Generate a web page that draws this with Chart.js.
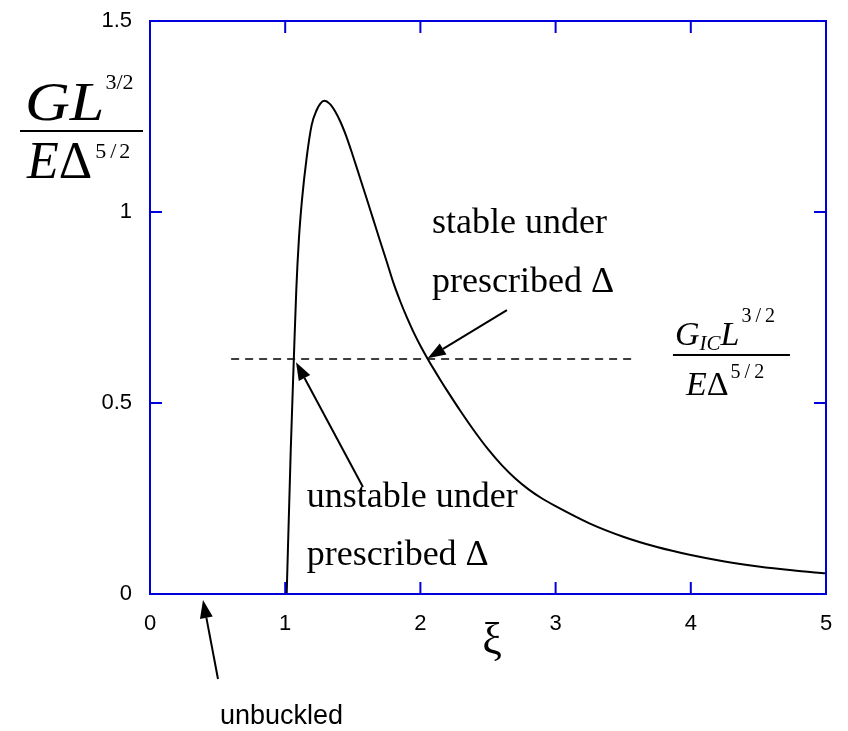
<!DOCTYPE html>
<html>
<head>
<meta charset="utf-8">
<script src="https://cdn.jsdelivr.net/npm/chart.js@4/dist/chart.umd.min.js"></script>
<style>
  html, body { margin: 0; padding: 0; background: #fff; }
  canvas { display: block; }
</style>
</head>
<body>
<canvas id="chart" width="848" height="731"></canvas>
<script>
// energy release rate vs. buckle parameter xi
const xi = [1.011, 1.041, 1.063, 1.082, 1.101, 1.124, 1.159, 1.196, 1.233, 1.26, 1.29,
  1.33, 1.37, 1.41, 1.45, 1.5, 1.55, 1.6, 1.65, 1.7, 1.75, 1.8, 1.85, 1.9, 1.95, 2.0,
  2.05, 2.1, 2.15, 2.2, 2.3, 2.4, 2.5, 2.6, 2.7, 2.8, 2.9, 3.0, 3.25, 3.5, 3.75, 4.0,
  4.25, 4.5, 4.75, 5.0];
const energy = [0, 0.377, 0.607, 0.796, 0.927, 1.031, 1.143, 1.228, 1.267, 1.284, 1.291,
  1.283, 1.263, 1.235, 1.2, 1.148, 1.093, 1.038, 0.982, 0.926, 0.871, 0.815, 0.767, 0.724, 0.685, 0.65,
  0.618, 0.588, 0.559, 0.531, 0.477, 0.426, 0.379, 0.338, 0.303, 0.274, 0.250, 0.230, 0.185, 0.150, 0.123, 0.102,
  0.085, 0.072, 0.062, 0.054];

// toughness level G_IC (dashed)
const gicXi = [0.6, 3.59];
const gicEnergy = [0.615, 0.615];

const xTicks = [0, 1, 2, 3, 4, 5];
const yTicks = [0, 0.5, 1, 1.5];

const BLUE = '#0000dc';
const SERIF = '"Liberation Serif", "Times New Roman", serif';
const SANS = '"Liberation Sans", Arial, sans-serif';

// [tailX, tailY, headX, headY] in data units
const arrows = [
  [2.640, 0.743, 2.054, 0.617],
  [1.575, 0.280, 1.080, 0.607],
  [0.503, -0.2225, 0.392, -0.0157]
];

const notes = [
  { text: 'stable under', x: 2.086, y: 0.945, font: '36px ' + SERIF },
  { text: 'prescribed \u0394', x: 2.086, y: 0.791, font: '36px ' + SERIF },
  { text: 'unstable under', x: 1.159, y: 0.228, font: '36px ' + SERIF },
  { text: 'prescribed \u0394', x: 1.159, y: 0.076, font: '36px ' + SERIF },
  { text: 'unbuckled', x: 0.518, y: -0.340, font: '27px ' + SANS }
];

// draws pieces left to right; sx stretches a piece horizontally
function textRun(ctx, x, y, pieces) {
  for (const p of pieces) {
    ctx.font = (p.italic ? 'italic ' : '') + p.size + 'px ' + SERIF;
    x += p.gap || 0;
    const sx = p.sx || 1;
    ctx.save();
    ctx.translate(x, y + (p.dy || 0));
    ctx.scale(sx, 1);
    ctx.fillText(p.t, 0, 0);
    ctx.restore();
    x += ctx.measureText(p.t).width * sx;
  }
}

function drawArrow(ctx, x1, y1, x2, y2) {
  const ang = Math.atan2(y2 - y1, x2 - x1);
  const len = 18, half = 6.5;
  const bx = x2 - len * Math.cos(ang), by = y2 - len * Math.sin(ang);
  ctx.beginPath();
  ctx.moveTo(x1, y1);
  ctx.lineTo(bx, by);
  ctx.stroke();
  ctx.beginPath();
  ctx.moveTo(x2, y2);
  ctx.lineTo(bx + half * Math.sin(ang), by - half * Math.cos(ang));
  ctx.lineTo(bx - half * Math.sin(ang), by + half * Math.cos(ang));
  ctx.closePath();
  ctx.fill();
}

const decorations = {
  id: 'decorations',
  afterDraw(chart) {
    const { ctx, chartArea: a, scales: { x, y } } = chart;
    ctx.save();

    // blue box with inward ticks
    ctx.strokeStyle = BLUE;
    ctx.lineWidth = 2;
    ctx.strokeRect(a.left, a.top, a.right - a.left, a.bottom - a.top);
    ctx.beginPath();
    xTicks.slice(1, -1).forEach(v => {
      const px = x.getPixelForValue(v);
      ctx.moveTo(px, a.bottom); ctx.lineTo(px, a.bottom - 12);
      ctx.moveTo(px, a.top); ctx.lineTo(px, a.top + 12);
    });
    yTicks.slice(1, -1).forEach(v => {
      const py = y.getPixelForValue(v);
      ctx.moveTo(a.left, py); ctx.lineTo(a.left + 12, py);
      ctx.moveTo(a.right, py); ctx.lineTo(a.right - 12, py);
    });
    ctx.stroke();

    // arrows
    ctx.strokeStyle = '#000';
    ctx.fillStyle = '#000';
    ctx.lineWidth = 2;
    arrows.forEach(([tx, ty, hx, hy]) => {
      drawArrow(ctx, x.getPixelForValue(tx), y.getPixelForValue(ty),
        x.getPixelForValue(hx), y.getPixelForValue(hy));
    });

    // annotations
    ctx.textAlign = 'left';
    ctx.textBaseline = 'alphabetic';
    notes.forEach(n => {
      ctx.font = n.font;
      ctx.fillText(n.text, x.getPixelForValue(n.x), y.getPixelForValue(n.y));
    });

    // x axis title
    ctx.font = '44px ' + SERIF;
    ctx.textAlign = 'center';
    ctx.fillText('\u03be', x.getPixelForValue(2.53), y.getPixelForValue(-0.155));
    ctx.textAlign = 'left';

    // y axis title  G L^{3/2} / E Delta^{5/2}
    const lx = a.left - 130, ly = a.top + 110;
    textRun(ctx, lx + 5, ly - 11, [
      { t: 'GL', size: 54, italic: true, sx: 1.15 },
      { t: '3/2', size: 22, dy: -31, gap: 1 }
    ]);
    ctx.fillRect(lx, ly - 1, 123, 2);
    textRun(ctx, lx + 7, ly + 47, [
      { t: 'E', size: 52, italic: true },
      { t: '\u0394', size: 52 },
      { t: '5', size: 22, dy: -20, gap: 3 },
      { t: '/', size: 22, dy: -20, gap: 4 },
      { t: '2', size: 22, dy: -20, gap: 3 }
    ]);

    // G_IC label next to the dashed line
    const gx = x.getPixelForValue(3.868), gy = y.getPixelForValue(0.6257);
    textRun(ctx, gx + 2, gy - 10, [
      { t: 'G', size: 34, italic: true },
      { t: 'IC', size: 21, italic: true, dy: 5 },
      { t: 'L', size: 34, italic: true },
      { t: '3', size: 20, dy: -23, gap: 2 },
      { t: '/', size: 20, dy: -23, gap: 4 },
      { t: '2', size: 20, dy: -23, gap: 4 }
    ]);
    ctx.fillRect(gx, gy - 1, 117, 2);
    textRun(ctx, gx + 13, gy + 40, [
      { t: 'E', size: 34, italic: true },
      { t: '\u0394', size: 34 },
      { t: '5', size: 20, dy: -17, gap: 2 },
      { t: '/', size: 20, dy: -17, gap: 4 },
      { t: '2', size: 20, dy: -17, gap: 4 }
    ]);

    ctx.restore();
  }
};

new Chart(document.getElementById('chart'), {
  type: 'line',
  data: {
    datasets: [
      {
        data: xi.map((v, i) => ({ x: v, y: energy[i] })),
        borderColor: '#000',
        borderWidth: 2,
        pointRadius: 0,
        cubicInterpolationMode: 'monotone',
        fill: false
      },
      {
        data: gicXi.map((v, i) => ({ x: v, y: gicEnergy[i] })),
        borderColor: '#000',
        borderWidth: 1.5,
        borderDash: [8, 6],
        pointRadius: 0,
        fill: false
      }
    ]
  },
  options: {
    responsive: false,
    animation: false,
    devicePixelRatio: 1,
    layout: { padding: { top: 21, right: 22, left: 0, bottom: 0 } },
    plugins: { legend: { display: false }, tooltip: { enabled: false } },
    scales: {
      x: {
        type: 'linear',
        min: 0,
        max: 5,
        afterBuildTicks: s => { s.ticks = xTicks.map(v => ({ value: v })); },
        afterFit: s => { s.height = 137; s.paddingLeft = 0; s.paddingRight = 0; },
        grid: { display: false, drawTicks: false },
        border: { display: false },
        ticks: { padding: 17, color: '#000', maxRotation: 0, autoSkip: false,
          font: { family: SANS, size: 22 } }
      },
      y: {
        type: 'linear',
        min: 0,
        max: 1.5,
        afterBuildTicks: s => { s.ticks = yTicks.map(v => ({ value: v })); },
        afterFit: s => { s.width = 150; s.paddingTop = 0; s.paddingBottom = 0; },
        grid: { display: false, drawTicks: false },
        border: { display: false },
        ticks: { padding: 18, color: '#000', autoSkip: false,
          callback: v => String(v),
          font: { family: SANS, size: 22 } }
      }
    }
  },
  plugins: [decorations]
});
</script>
</body>
</html>
